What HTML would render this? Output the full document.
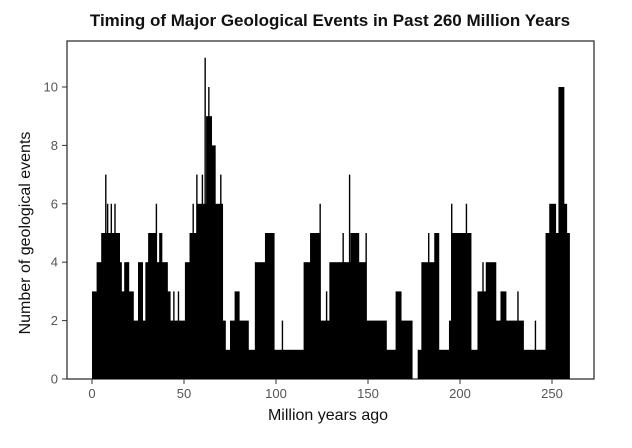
<!DOCTYPE html>
<html><head><meta charset="utf-8"><style>
body{margin:0;background:#fff;width:632px;height:443px;overflow:hidden;font-family:"Liberation Sans",sans-serif}
</style></head><body>
<svg id="c" width="632" height="443">
<text x="330" y="26" text-anchor="middle" font-size="17" font-weight="bold" fill="#111">Timing of Major Geological Events in Past 260 Million Years</text>
<rect x="67" y="41" width="527" height="338" fill="none" stroke="#333" stroke-width="1.3"/>
<g id="marks"></g><g id="axes"></g>
<text x="328" y="420" text-anchor="middle" font-size="16" fill="#111">Million years ago</text>
<text transform="translate(30,233) rotate(-90)" text-anchor="middle" font-size="16" fill="#111">Number of geological events</text>
</svg>
<script>
const segStart=[0,2.5,5,15,16,17.5,20,22.5,25,27.5,29,30.5,35,36.5,38,41,42.5,50.5,53,57,60,62,65,67,71,72.5,75,77.5,80,85,88.5,94,99,103.5,115,118.5,124,129,137,140.5,145,149,160,165,168,174,177,179,186,188.5,194,195.5,206,209.5,214,219.5,222,225,234.5,246.5,248.5,252,253.5,256.5,258];
const segEnd=[2.5,5,15,16,17.5,20,22.5,25,27.5,29,30.5,35,36.5,38,41,42.5,50.5,53,57,60,62,65,67,71,72.5,75,77.5,80,85,88.5,94,99,103.5,115,118.5,124,129,137,140.5,145,149,160,165,168,174,177,179,186,188.5,194,195.5,206,209.5,214,219.5,222,225,234.5,246.5,248.5,252,253.5,256.5,258,259.5];
const segValue=[3,4,5,4,3,4,3,2,4,2,4,5,4,5,4,3,2,4,5,6,6,9,8,6,2,1,2,3,2,1,4,5,1,1,4,5,2,4,4,5,4,2,1,3,2,0,1,4,5,1,2,5,1,3,4,2,3,2,1,5,6,5,10,6,5];
const spikeX=[7.5,8.5,10.5,12.5,19.5,35,44.5,47,55,57,60,61.5,63.5,70,103.5,124,127.5,136.5,140,149,183,195.5,203.5,212.5,223,231.5,241];
const spikeValue=[7,6,6,6,4,6,3,3,6,7,7,11,10,7,2,6,3,5,7,5,5,6,6,4,3,3,2];
const xTicks=[0,50,100,150,200,250];
const yTicks=[0,2,4,6,8,10];
const NS='http://www.w3.org/2000/svg';
const X=v=>92+v*1.84, Y=v=>379-v*29.2;
const marks=document.getElementById('marks'), axes=document.getElementById('axes');
for(let i=0;i<segStart.length;i++){
  const r=document.createElementNS(NS,'rect');
  r.setAttribute('x',X(segStart[i]));r.setAttribute('width',X(segEnd[i])-X(segStart[i])+0.4);
  r.setAttribute('y',Y(segValue[i]));r.setAttribute('height',Y(0)-Y(segValue[i]));r.setAttribute('fill','#000');
  
  
  marks.appendChild(r);
}
for(let i=0;i<spikeX.length;i++){
  const l=document.createElementNS(NS,'line');
  l.setAttribute('x1',X(spikeX[i]));l.setAttribute('x2',X(spikeX[i]));
  l.setAttribute('y1',Y(0));l.setAttribute('y2',Y(spikeValue[i]));l.setAttribute('stroke','#000');l.setAttribute('stroke-width','1.4');
  
  
  marks.appendChild(l);
}
xTicks.forEach(v=>{
  const l=document.createElementNS(NS,'line');
  l.setAttribute('x1',X(v));l.setAttribute('x2',X(v));l.setAttribute('y1',379);l.setAttribute('y2',384);l.setAttribute('stroke','#333');
  
  
  axes.appendChild(l);
  const t=document.createElementNS(NS,'text');
  t.setAttribute('x',X(v));t.setAttribute('y',398);t.setAttribute('text-anchor','middle');t.setAttribute('font-size','13');t.setAttribute('fill','#555');t.textContent=v;
  
  
  axes.appendChild(t);
});
yTicks.forEach(v=>{
  const l=document.createElementNS(NS,'line');
  l.setAttribute('x1',62);l.setAttribute('x2',67);l.setAttribute('y1',Y(v));l.setAttribute('y2',Y(v));l.setAttribute('stroke','#333');
  
  
  axes.appendChild(l);
  const t=document.createElementNS(NS,'text');
  t.setAttribute('x',58);t.setAttribute('y',Y(v)+4.5);t.setAttribute('text-anchor','end');t.setAttribute('font-size','13');t.setAttribute('fill','#555');t.textContent=v;
  
  
  axes.appendChild(t);
});
</script>
</body></html>
